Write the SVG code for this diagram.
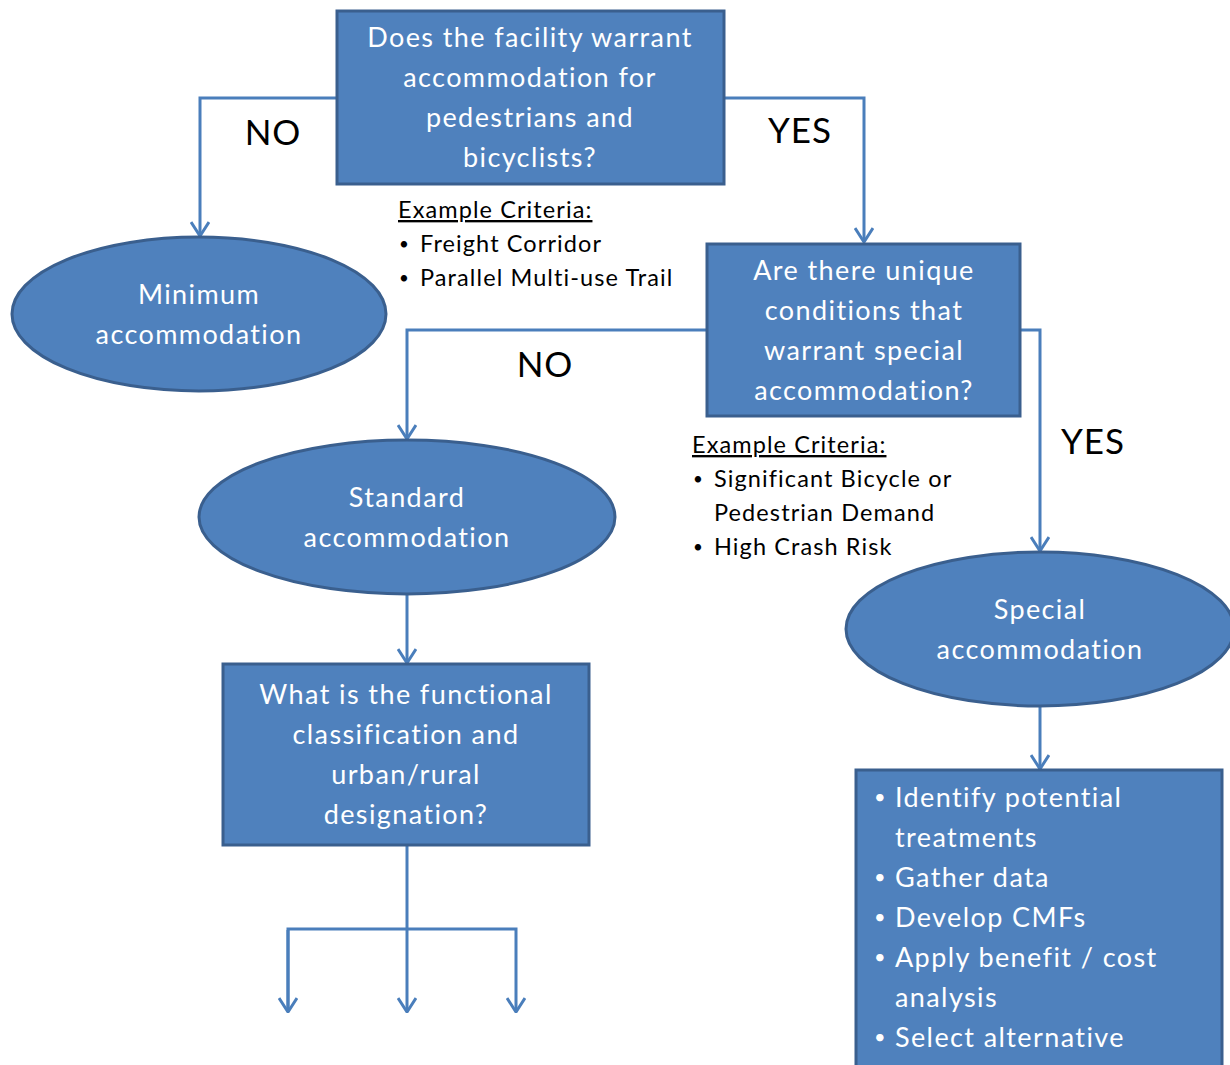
<svg xmlns="http://www.w3.org/2000/svg" width="1230" height="1065" viewBox="0 0 1230 1065">
<style>
.box{fill:#4F81BD;stroke:#3A5F8E;stroke-width:3}
.nt{font-family:Lato,"Open Sans",sans-serif;font-size:27px;letter-spacing:1.4px;fill:#FFFFFF;text-anchor:middle}
.lt{font-family:Lato,"Open Sans",sans-serif;font-size:27px;letter-spacing:1.4px;fill:#FFFFFF}
.lb{font-family:Lato,"Open Sans",sans-serif;font-size:20px;fill:#FFFFFF}
.lbl{font-family:Lato,"Open Sans",sans-serif;font-size:35px;letter-spacing:1px;fill:#000000;text-anchor:middle}
.cr{font-family:Lato,"Open Sans",sans-serif;font-size:23.5px;letter-spacing:1.1px;fill:#000000}
.cb{font-family:Lato,"Open Sans",sans-serif;font-size:17px;fill:#000000}
.con{fill:none;stroke:#4A7EBB;stroke-width:3}
</style>
<defs>
<marker id="arr" viewBox="0 0 16 20" refX="15" refY="10" markerWidth="16" markerHeight="20" markerUnits="userSpaceOnUse" orient="auto">
<path d="M1,1 L15,10 L1,19" fill="none" stroke="#4A7EBB" stroke-width="3"/>
</marker>
</defs>
<g id="connectors">
<path class="con" d="M337,98 H200 V236" marker-end="url(#arr)"/>
<path class="con" d="M724,98 H864 V242" marker-end="url(#arr)"/>
<path class="con" d="M707,330 H407 V439" marker-end="url(#arr)"/>
<path class="con" d="M1020,330 H1040 V551" marker-end="url(#arr)"/>
<path class="con" d="M407,594 V663" marker-end="url(#arr)"/>
<path class="con" d="M1040,706 V769" marker-end="url(#arr)"/>
<path class="con" d="M407,845 V1012" marker-end="url(#arr)"/>
<path class="con" d="M288,1012 V929 H516 V1012" marker-end="url(#arr)"/>
<path class="con" d="M288,930 V1012" marker-end="url(#arr)"/>
<text class="lbl" x="273" y="145">NO</text>
<text class="lbl" x="800" y="143">YES</text>
<text class="lbl" x="545" y="377">NO</text>
<text class="lbl" x="1093" y="454">YES</text>
</g>
<g id="q1">
<rect class="box" x="337" y="11" width="387" height="173"/>
<text class="nt" x="530" y="47">Does the facility warrant</text>
<text class="nt" x="530" y="87">accommodation for</text>
<text class="nt" x="530" y="127">pedestrians and</text>
<text class="nt" x="530" y="167">bicyclists?</text>
</g>
<g id="criteria1">
<text class="cr" x="398" y="218" text-decoration="underline">Example Criteria:</text>
<text class="cb" x="399" y="250">•</text><text class="cr" x="420" y="252">Freight Corridor</text>
<text class="cb" x="399" y="284">•</text><text class="cr" x="420" y="286">Parallel Multi-use Trail</text>
</g>
<g id="minimum">
<ellipse class="box" cx="199" cy="314" rx="187" ry="77"/>
<text class="nt" x="199" y="304">Minimum</text>
<text class="nt" x="199" y="344">accommodation</text>
</g>
<g id="q2">
<rect class="box" x="707" y="244" width="313" height="172"/>
<text class="nt" x="864" y="280">Are there unique</text>
<text class="nt" x="864" y="320">conditions that</text>
<text class="nt" x="864" y="360">warrant special</text>
<text class="nt" x="864" y="400">accommodation?</text>
</g>
<g id="criteria2">
<text class="cr" x="692" y="453" text-decoration="underline">Example Criteria:</text>
<text class="cb" x="693" y="485">•</text><text class="cr" x="714" y="487">Significant Bicycle or</text>
<text class="cr" x="714" y="521">Pedestrian Demand</text>
<text class="cb" x="693" y="553">•</text><text class="cr" x="714" y="555">High Crash Risk</text>
</g>
<g id="standard">
<ellipse class="box" cx="407" cy="517" rx="208" ry="77"/>
<text class="nt" x="407" y="507">Standard</text>
<text class="nt" x="407" y="547">accommodation</text>
</g>
<g id="special">
<ellipse class="box" cx="1040" cy="629" rx="194" ry="77"/>
<text class="nt" x="1040" y="619">Special</text>
<text class="nt" x="1040" y="659">accommodation</text>
</g>
<g id="q3">
<rect class="box" x="223" y="664" width="366" height="181"/>
<text class="nt" x="406" y="704">What is the functional</text>
<text class="nt" x="406" y="744">classification and</text>
<text class="nt" x="406" y="784">urban/rural</text>
<text class="nt" x="406" y="824">designation?</text>
</g>
<g id="steps">
<rect class="box" x="856" y="770" width="366" height="310"/>
<text class="lb" x="874" y="804">•</text><text class="lt" x="895" y="807">Identify potential</text>
<text class="lt" x="895" y="847">treatments</text>
<text class="lb" x="874" y="884">•</text><text class="lt" x="895" y="887">Gather data</text>
<text class="lb" x="874" y="924">•</text><text class="lt" x="895" y="927">Develop CMFs</text>
<text class="lb" x="874" y="964">•</text><text class="lt" x="895" y="967">Apply benefit / cost</text>
<text class="lt" x="895" y="1007">analysis</text>
<text class="lb" x="874" y="1044">•</text><text class="lt" x="895" y="1047">Select alternative</text>
</g>
</svg>
